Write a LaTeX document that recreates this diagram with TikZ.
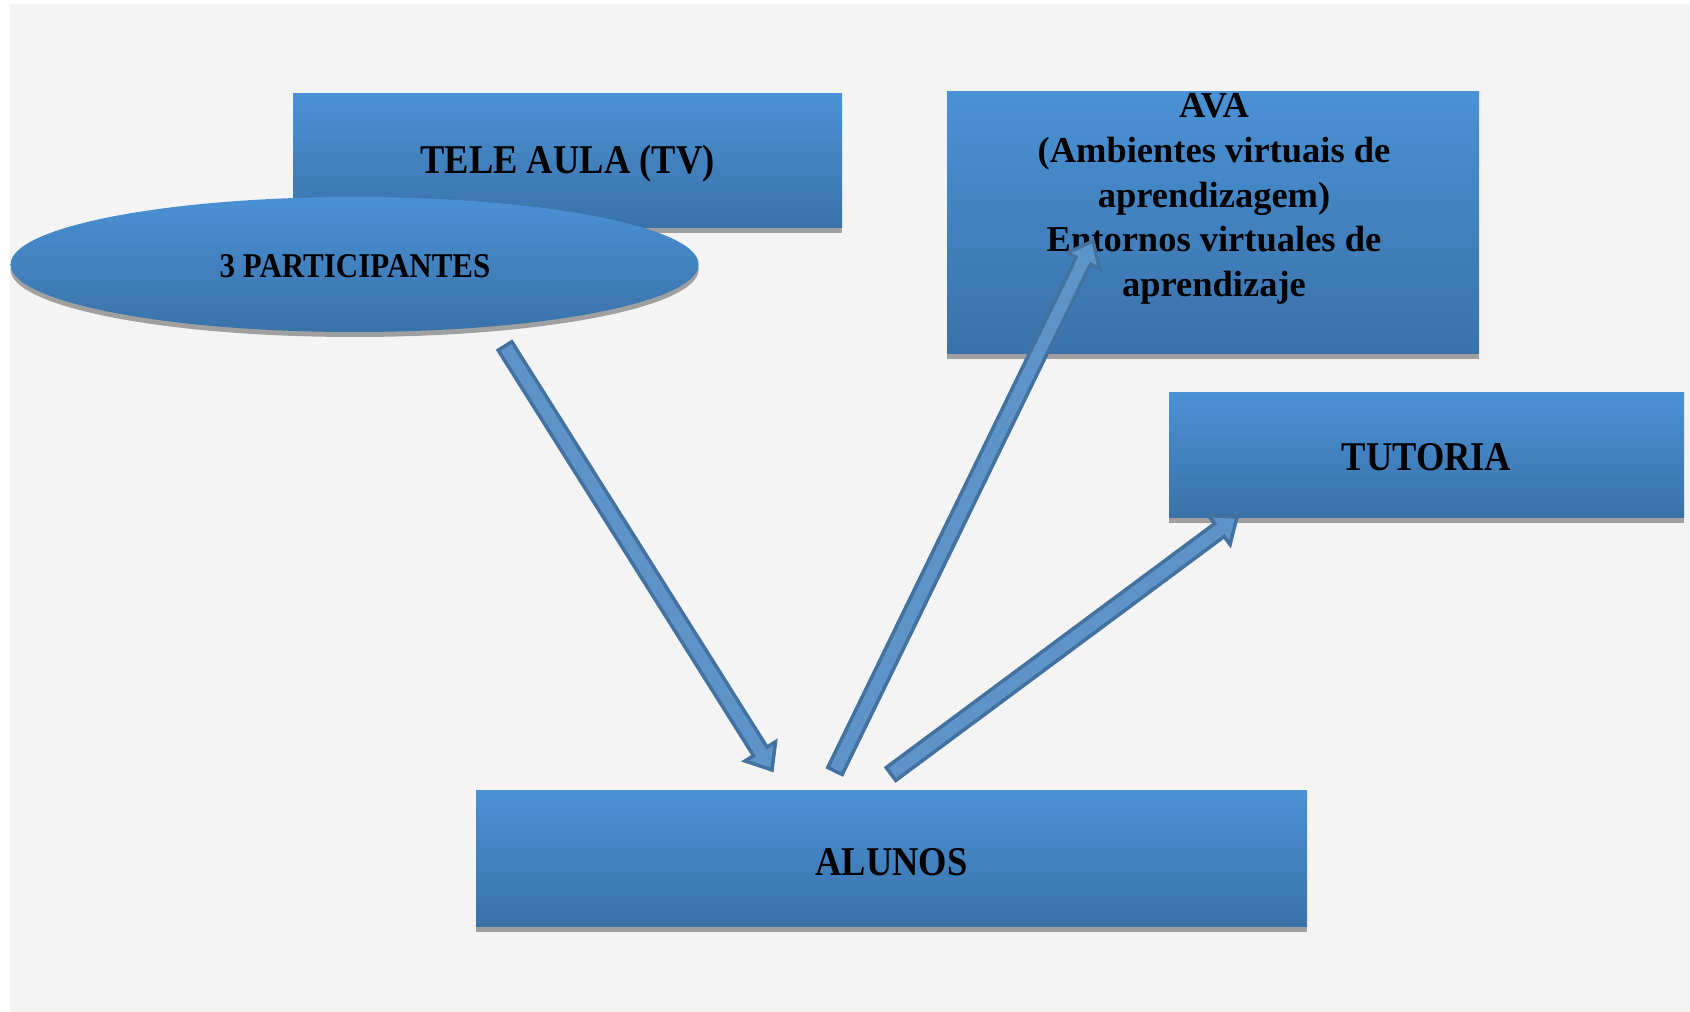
\documentclass[tikz,border=0pt]{standalone}
\usepackage{fontspec}
\usepackage{graphicx}
\setmainfont{Liberation Serif}
\usetikzlibrary{shapes.geometric,shadows,calc}
\definecolor{bgc}{RGB}{244,244,244}
\definecolor{boxtop}{RGB}{74,145,213}
\definecolor{boxbot}{RGB}{58,114,169}
\definecolor{shgray}{RGB}{160,160,160}
\definecolor{arrfill}{RGB}{94,148,200}
\definecolor{arrline}{RGB}{67,114,160}
\newcommand\tallt[1]{\scalebox{1}[1.12]{#1}}
\tikzset{
  bluebox/.style={rectangle, inner sep=0pt, top color=boxtop, bottom color=boxbot,
    drop shadow={shadow xshift=0pt, shadow yshift=-5pt, fill=shgray, opacity=1}},
  blueell/.style={ellipse, inner sep=0pt, top color=boxtop, bottom color=boxbot,
    drop shadow={shadow xshift=0pt, shadow yshift=-5pt, fill=shgray, opacity=1}},
  bigtxt/.style={font=\bfseries\fontsize{36.5}{44.7}\selectfont, text=black},
  arrowsty/.style={draw=arrline, fill=arrfill, line width=3.5pt, line join=miter},
}
\newcommand\blockarrow[3]{%
  \coordinate (#3h) at ($(#2)!22pt!(#1)$);
  \draw[arrowsty] ($(#1)!8pt!90:(#2)$) -- ($(#3h)!8pt!90:(#2)$) -- ($(#3h)!18pt!90:(#2)$)
    -- (#2) -- ($(#3h)!18pt!-90:(#2)$) -- ($(#3h)!8pt!-90:(#2)$) -- ($(#1)!8pt!-90:(#2)$) -- cycle;}
\begin{document}
\begin{tikzpicture}[x=1pt,y=1pt]
\useasboundingbox (0,0) rectangle (1690,1012);
\fill[bgc] (10,0) rectangle (1690,1008);
% boxes
\node[bluebox, minimum width=549pt, minimum height=134pt] (tele) at (567.5,851) {};
\node[bigtxt] (teletxt) at (567.5,848) {\tallt{TELE AULA (TV)}};
\node[blueell, minimum width=688pt, minimum height=135pt] (part) at (354.6,747.5) {};
\node[font=\bfseries\fontsize{31}{36}\selectfont] (parttxt) at (355,746) {\tallt{3 PARTICIPANTES}};
\node[bluebox, minimum width=532pt, minimum height=262pt] (ava) at (1213,789) {};
\node[bigtxt, align=center] (avatxt) at (1214,813) {AVA\\(Ambientes virtuais de\\aprendizagem)\\Entornos virtuales de\\aprendizaje};
\node[bluebox, minimum width=515pt, minimum height=125pt] (tut) at (1426.5,556.5) {};
\node[bigtxt] (tuttxt) at (1426.5,555) {\tallt{TUTORIA}};
\node[bluebox, minimum width=831pt, minimum height=136pt] (alu) at (891.5,153) {};
\node[bigtxt] (alutxt) at (891.5,150) {\tallt{ALUNOS}};
% arrows
\coordinate (a1s) at (505,666);
\coordinate (a1e) at (772,242);
\coordinate (a2s) at (835,241);
\coordinate (a2e) at (1093,771);
\coordinate (a3s) at (891,238);
\coordinate (a3e) at (1237,495);
\blockarrow{a1s}{a1e}{ar1}
\blockarrow{a2s}{a2e}{ar2}
\blockarrow{a3s}{a3e}{ar3}
\end{tikzpicture}
\end{document}
